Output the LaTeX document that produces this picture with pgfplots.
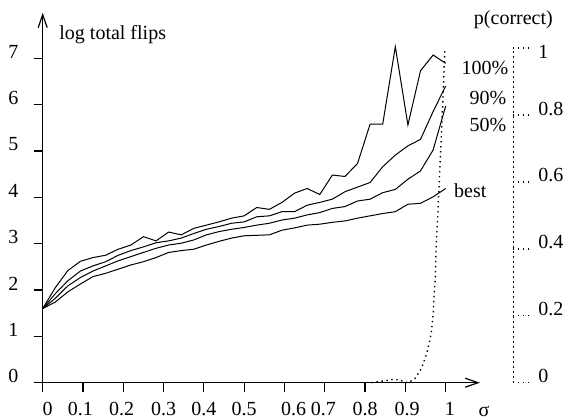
\documentclass[border=0pt]{standalone}
\usepackage{fontspec}
\setmainfont{Liberation Serif}
\usepackage{pgfplots}
\pgfplotsset{compat=1.18}
\usepackage{pgfplotstable}
\usetikzlibrary{arrows.meta}

% log total flips against sigma: worst run (100%), 90th and 50th percentile, best run
\pgfplotstableread{
sigma    c100 c90  c50  best
0.00000  1.60 1.60 1.60 1.60
0.03125  2.05 1.92 1.82 1.74
0.06250  2.42 2.20 2.09 1.96
0.09375  2.62 2.41 2.27 2.13
0.12500  2.70 2.52 2.41 2.29
0.15625  2.75 2.61 2.52 2.36
0.18750  2.88 2.75 2.63 2.45
0.21875  2.97 2.85 2.72 2.54
0.25000  3.15 2.93 2.81 2.61
0.28125  3.06 3.02 2.90 2.70
0.31250  3.25 3.06 2.97 2.81
0.34375  3.19 3.12 3.01 2.85
0.37500  3.33 3.22 3.08 2.88
0.40625  3.40 3.31 3.19 2.97
0.43750  3.47 3.37 3.26 3.05
0.46875  3.55 3.44 3.31 3.12
0.50000  3.60 3.47 3.35 3.17
0.53125  3.78 3.58 3.40 3.18
0.56250  3.74 3.60 3.44 3.19
0.59375  3.89 3.69 3.51 3.29
0.62500  4.09 3.69 3.55 3.34
0.65625  4.19 3.83 3.62 3.40
0.68750  4.06 3.89 3.67 3.42
0.71875  4.48 3.96 3.76 3.46
0.75000  4.45 4.12 3.80 3.49
0.78125  4.73 4.22 3.92 3.55
0.81250  5.58 4.32 3.96 3.60
0.84375  5.58 4.66 4.10 3.65
0.87500  7.25 4.91 4.17 3.69
0.90625  5.56 5.11 4.39 3.85
0.93750  6.73 5.25 4.57 3.87
0.96875  7.07 5.85 5.02 4.01
1.00000  6.89 6.40 5.97 4.19
}\flips

% probability of a correct answer against sigma
\pgfplotstableread{
sigma  p
0.816  0.000
0.845  0.005
0.870  0.010
0.887  0.008
0.899  0.000
0.911  0.003
0.924  0.013
0.940  0.043
0.953  0.088
0.961  0.128
0.965  0.157
0.969  0.207
0.971  0.257
0.974  0.307
0.976  0.397
0.981  0.516
0.993  0.845
0.998  1.000
}\pcorrect

\tikzset{sparsedots/.style={line width=0.7pt, dash pattern=on 0.7pt off 1.8pt}}

\begin{document}
\begin{tikzpicture}[font=\fontsize{10}{12}\selectfont]
\begin{axis}[
  x=201.5pt, y=23.175pt,
  xmin=0, xmax=1.085, ymin=0, ymax=7.98,
  axis lines=left,
  axis line style={line width=0.6pt, -{Straight Barb[length=6.5pt,width=4.5pt]}},
  tick align=outside,
  major tick length=4.5pt,
  tick style={line width=0.6pt, black},
  xtick={0,0.1,0.2,0.3,0.4,0.5,0.6,0.7,0.8,0.9,1},
  xticklabels={\hspace*{5pt}0,0.1\hspace*{2.7pt},0.2\hspace*{1.7pt},0.3,0.4,0.5,\hspace*{9pt}0.6,0.7\hspace*{1.5pt},0.8,\hspace*{1.8pt}0.9,\hspace*{4.3pt}1},
  ytick={0,1,2,3,4,5,6,7},
  /pgf/number format/assume math mode=true,
  xticklabel style={anchor=base, inner sep=0pt, yshift=-11.8pt},
  yticklabel style={anchor=base east, inner sep=0pt, xshift=-7.5pt},
  clip=false,
]
\coordinate (O) at (axis cs:0,0);
\addplot[line width=0.5pt, mark=none] table[x=sigma, y=c100] {\flips};
\addplot[line width=0.5pt, mark=none] table[x=sigma, y=c90] {\flips};
\addplot[line width=0.5pt, mark=none] table[x=sigma, y=c50] {\flips};
\addplot[line width=0.5pt, mark=none] table[x=sigma, y=best] {\flips};
\node[anchor=west, inner sep=0pt] at (axis cs:0.0404,7.51) {log total flips};
\node[inner sep=0pt] at (axis cs:1.0975,6.79) {100\%};
\node[inner sep=0pt] at (axis cs:1.105,6.153) {90\%};
\node[inner sep=0pt] at (axis cs:1.105,5.56) {50\%};
\node[inner sep=0pt] at (axis cs:1.061,4.136) {best};
\node[inner sep=0pt] at (axis cs:1.095,-0.62) {σ};
\node[inner sep=0pt] at (axis cs:1.168,7.825) {p(correct)};
\end{axis}
\begin{axis}[
  x=201.5pt, y=167.3pt,
  xmin=0, xmax=1.1677, ymin=0, ymax=1,
  axis x line=none,
  axis y line*=right,
  axis line style={sparsedots},
  tick align=outside,
  major tick length=8pt,
  ytick={0,0.2,0.4,0.6,0.8,1},
  yticklabels={0,0.2,0.4,0.6,0.8,\raisebox{-5pt}{1}},
  ytick style={sparsedots, black},
  yticklabel style={anchor=base west, inner sep=0pt, xshift=4.35pt},
  clip=false,
]
\addplot[sparsedots, mark=none] table[x=sigma, y=p] {\pcorrect};
\end{axis}
\pgfresetboundingbox
\path ([shift={(-21.35pt,-18.15pt)}]O) rectangle ([shift={(260.65pt,191.35pt)}]O);
\end{tikzpicture}
\end{document}
